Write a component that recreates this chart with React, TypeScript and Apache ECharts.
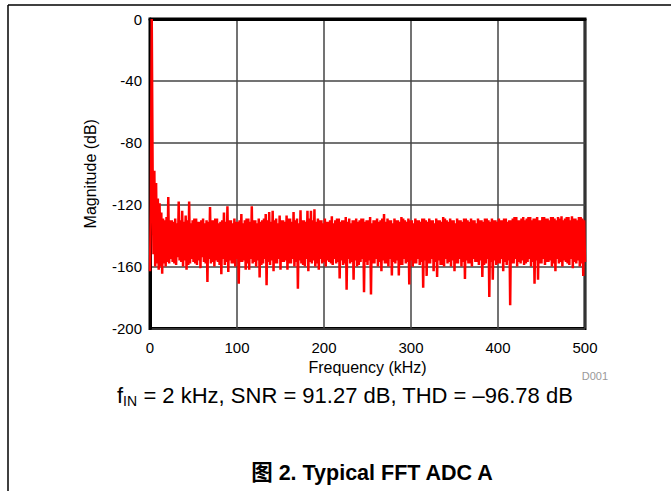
import React, { useEffect, useRef } from "react";
import * as echarts from "echarts";

// FFT bins are spaced 1 kHz apart; each segment holds 100 kHz of the spectrum (dB).
const BIN_STEP_KHZ = 1;

const spectrum0to99: number[] = [
  -163, -120, 0, -97, -152, -98, -160, -106, -158, -116, -162, -119,
  -160, -125, -164.6, -129, -158, -130, -160, -128, -157, -115, -158, -130,
  -155, -130, -157, -131, -158, -129, -159, -132, -154, -118, -156, -130,
  -157, -124, -160, -131, -156, -127, -162, -130, -159, -118, -158, -132,
  -155, -130, -157, -129, -158, -129, -159, -131, -156, -131, -161, -130,
  -154, -129, -157, -132, -158, -130, -170, -131, -155, -121.5, -158, -130,
  -157, -130, -160, -129, -156, -129, -157, -132, -159, -131, -165, -130,
  -155, -125, -159, -131, -157, -121, -163.5, -130, -156, -130, -158, -132,
  -158, -129, -160, -131,
];
const spectrum100to199: number[] = [
  -155, -131, -171, -130, -157, -126, -157, -132, -156, -130, -162, -129,
  -158, -129, -162, -131, -155, -121, -158, -130, -157, -130, -160, -132,
  -156, -129, -167, -131, -159, -130, -158, -129, -155, -126, -172, -130,
  -157, -124.7, -159, -131, -156, -124, -163, -130, -158, -129, -158, -132,
  -155, -127, -162, -130, -157, -130, -157, -131, -156, -127, -162, -129,
  -158, -129, -158, -131, -155, -124.7, -160, -130, -157, -129, -174.3, -132,
  -156, -123.6, -158, -130, -159, -130, -160, -131, -155, -124, -163, -129,
  -157, -124, -158, -130, -156, -123, -160, -131, -158, -129, -162, -130,
  -155, -130, -158, -132,
];
const spectrum200to299: number[] = [
  -157, -129, -160, -131, -156, -131, -157, -130, -158, -127.5, -159, -132,
  -155, -130, -158, -129, -157, -129, -167.6, -131, -156, -130, -159, -130,
  -158, -128, -175, -131, -155, -129, -158, -132, -157, -130, -168.5, -130,
  -156, -129, -160, -131, -159, -130, -157, -129, -155, -129, -176.5, -131,
  -157, -130, -159, -130, -156, -128, -178, -132, -158, -130, -158, -130,
  -155, -129, -160, -131, -157, -130, -163, -129, -156, -126, -158, -131,
  -158, -129, -160, -130, -155, -130, -165.7, -132, -157, -129, -158, -130,
  -156, -130, -165.7, -131, -159, -128, -159, -129, -155, -130, -158, -131,
  -157, -129, -171.5, -130,
];
const spectrum300to399: number[] = [
  -156, -130, -160, -132, -158, -129, -158, -130, -155, -130, -159, -131,
  -157, -129, -173.7, -129, -156, -130, -166, -131, -158, -129, -158, -130,
  -155, -130, -163, -132, -157, -129, -166.7, -130, -156, -130, -159, -131,
  -159, -128, -160, -129, -155, -130, -158, -131, -157, -129, -160, -130,
  -156, -130, -163, -132, -158, -129, -158, -130, -155, -130, -160, -131,
  -157, -129, -168, -129, -156, -130, -158, -131, -158, -129, -160, -130,
  -155, -130, -157, -132, -157, -129, -159, -130, -156, -130, -166.7, -131,
  -159, -129, -158, -129, -155, -130, -179.7, -131, -157, -129, -168.5, -130,
  -156, -130, -159, -131,
];
const spectrum400to500: number[] = [
  -158, -129, -158, -130, -155, -130, -163, -129, -157, -129, -159, -131,
  -156, -130, -185, -130, -158, -129, -158, -128, -155, -128, -160, -130,
  -157, -130, -158, -129, -156, -128, -159, -130, -158, -129, -157, -128,
  -155, -128, -160, -130, -157, -129, -171, -129, -156, -128, -168.5, -130,
  -158, -130, -158, -128, -155, -128, -159, -129, -157, -129, -157, -130,
  -156, -128, -160, -128, -158, -129, -163, -130, -155, -128, -158, -129,
  -157, -127.5, -160, -130, -156, -129, -157, -128, -158, -128, -159, -130,
  -155, -127.5, -161, -129, -157, -129, -158, -130, -156, -128, -160, -128,
  -158, -129, -166, -130, -157,
];

const magnitudeDb: number[] = [
  ...spectrum0to99,
  ...spectrum100to199,
  ...spectrum200to299,
  ...spectrum300to399,
  ...spectrum400to500,
];

const xTicksKHz = { min: 0, max: 500, interval: 100 };
const yTicksDb = { min: -200, max: 0, interval: 40 };

const FONT = '"Liberation Sans", Arial, Helvetica, sans-serif';
const CJK_FONT = '"Liberation Sans", Arial, "Noto Sans CJK SC", sans-serif';

export default function App() {
  const ref = useRef<HTMLDivElement>(null);

  useEffect(() => {
    if (!ref.current) return;
    const chart = echarts.init(ref.current, null, { renderer: "svg" });

    const points = magnitudeDb.map((v, i) => [i * BIN_STEP_KHZ, v]);

    chart.setOption({
      animation: false,
      backgroundColor: "#ffffff",
      grid: {
        left: 150,
        right: 86,
        top: 19,
        bottom: 162.5,
        show: true,
        borderColor: "#000",
        borderWidth: 3,
        backgroundColor: "transparent",
      },
      xAxis: {
        type: "value",
        ...xTicksKHz,
        axisLine: { show: true, lineStyle: { color: "#000", width: 3 } },
        axisTick: { show: false },
        splitLine: { show: true, lineStyle: { color: "#444", width: 1.5 } },
        axisLabel: { color: "#000", fontSize: 15, fontFamily: FONT, margin: 11 },
        name: "Frequency (kHz)",
        nameLocation: "middle",
        nameGap: 30,
        nameTextStyle: { color: "#000", fontSize: 16, fontFamily: FONT },
      },
      yAxis: {
        type: "value",
        ...yTicksDb,
        axisLine: { show: true, lineStyle: { color: "#000", width: 3 } },
        axisTick: { show: false },
        splitLine: { show: true, lineStyle: { color: "#444", width: 1.5 } },
        axisLabel: { color: "#000", fontSize: 15, fontFamily: FONT, margin: 8 },
        name: "Magnitude (dB)",
        nameLocation: "middle",
        nameGap: 52,
        nameTextStyle: { color: "#000", fontSize: 16, fontFamily: FONT },
      },
      series: [
        {
          type: "line",
          data: points,
          showSymbol: false,
          symbol: "none",
          silent: true,
          clip: true,
          lineStyle: { color: "#ff0000", width: 2.5 },
          z: 2,
        },
      ],
      graphic: [
        {
          type: "line",
          shape: { x1: 8, y1: 5, x2: 671, y2: 5 },
          style: { stroke: "#000", lineWidth: 1.5 },
        },
        {
          type: "line",
          shape: { x1: 8, y1: 5, x2: 8, y2: 491 },
          style: { stroke: "#000", lineWidth: 1.5 },
        },
        {
          type: "text",
          x: 608,
          y: 376,
          style: {
            text: "D001",
            fill: "#999999",
            font: `11px ${FONT}`,
            align: "right",
            verticalAlign: "middle",
          },
        },
        {
          type: "text",
          x: 345,
          y: 395,
          style: {
            text: "{m|f}{s|IN}{m| = 2 kHz, SNR = 91.27 dB, THD = –96.78 dB}",
            fill: "#000",
            font: `22px ${FONT}`,
            align: "center",
            verticalAlign: "middle",
            rich: {
              m: { fontSize: 22, fontFamily: FONT, fill: "#000", lineHeight: 26 },
              s: { fontSize: 14, fontFamily: FONT, fill: "#000", lineHeight: 12, verticalAlign: "bottom" },
            },
          },
        },
        {
          type: "text",
          x: 372,
          y: 473,
          style: {
            text: "图 2. Typical FFT ADC A",
            fill: "#000",
            font: `bold 21.5px ${CJK_FONT}`,
            align: "center",
            verticalAlign: "middle",
          },
        },
      ],
    });

    return () => chart.dispose();
  }, []);

  return (
    <div
      ref={ref}
      style={{ position: "fixed", left: 0, top: 0, width: 671, height: 491 }}
    />
  );
}
